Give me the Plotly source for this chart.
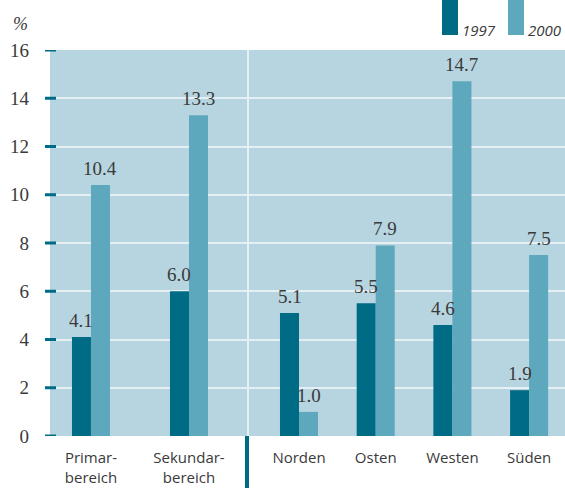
import plotly.graph_objects as go
from plotly.subplots import make_subplots

# ---- data ----
cats_left = ["Primar-<br>bereich", "Sekundar-<br>bereich"]
cats_right = ["Norden", "Osten", "Westen", "Süden"]
v1997_left = [4.1, 6.0]
v2000_left = [10.4, 13.3]
v1997_right = [5.1, 5.5, 4.6, 1.9]
v2000_right = [1.0, 7.9, 14.7, 7.5]
series_names = ["1997", "2000"]
y_ticks = [0, 2, 4, 6, 8, 10, 12, 14, 16]

# ---- style ----
W, H = 565, 488
ML, MR, MT, MB = 50, 0, 50, 52
PW = W - ML - MR
PH = H - MT - MB
DARK = "#006b84"
LIGHT = "#5ea8be"
BG = "#b7d5e0"
GRID = "#e6f0f4"
TXT = "#3a3a3a"
SERIF = "Liberation Serif, serif"
SANS = "Open Sans, sans-serif"
BAR_PX = 19

split_px = 248
split = (split_px - ML) / PW

fig = make_subplots(rows=1, cols=2, shared_yaxes=True, horizontal_spacing=0,
                    column_widths=[split, 1 - split])
fig.update_xaxes(domain=[0, split], row=1, col=1)
fig.update_xaxes(domain=[split, 1], row=1, col=2)

wl = 0.194
wr = 0.248
for col, cats, a, b, w in [(1, cats_left, v1997_left, v2000_left, wl),
                          (2, cats_right, v1997_right, v2000_right, wr)]:
    xref = "x" if col == 1 else "x2"
    for vals, color, off, name, shift in [(a, DARK, -w, series_names[0], -BAR_PX / 2),
                                          (b, LIGHT, 0, series_names[1], BAR_PX / 2)]:
        fig.add_trace(go.Bar(
            x=cats, y=vals, marker=dict(color=color, line=dict(width=0)),
            width=w, offset=off, name=name, showlegend=False, hoverinfo="skip",
        ), row=1, col=col)
        for c, v in zip(cats, vals):
            fig.add_annotation(x=c, y=v, xref=xref, yref="y", text=f"{v:.1f}",
                               showarrow=False, xanchor="center", yanchor="bottom",
                               xshift=shift, yshift=4,
                               font=dict(family=SERIF, size=19, color=TXT))

fig.update_layout(
    width=W, height=H, barmode="overlay",
    margin=dict(l=ML, r=MR, t=MT, b=MB),
    paper_bgcolor="white", plot_bgcolor=BG,
    showlegend=False,
)
fig.update_xaxes(row=1, col=1, range=[-0.418, 1.602])
fig.update_xaxes(row=1, col=2, range=[-0.665, 3.468])
fig.update_xaxes(showgrid=False, zeroline=False, showline=False, ticks="",
                 tickfont=dict(family=SANS, size=15, color=TXT),
                 ticklabelstandoff=11, automargin=False)
fig.update_yaxes(range=[0, 16], tickvals=y_ticks, showgrid=True, gridcolor=GRID,
                 gridwidth=2, zeroline=False, showline=False, ticks="", automargin=False)
fig.update_yaxes(row=1, col=1, tickfont=dict(family=SERIF, size=19, color=TXT),
                 ticklabelstandoff=20)

# y tick marks (cross the left edge)
for t in y_ticks:
    fig.add_shape(type="line", xref="paper", yref="y", x0=-5 / PW, x1=6 / PW,
                  y0=t, y1=t, line=dict(color=DARK, width=3))

# divider: white line within plot, dark line below
fig.add_shape(type="line", xref="paper", yref="paper", x0=split, x1=split, y0=0, y1=1,
              line=dict(color=GRID, width=2))
fig.add_shape(type="line", xref="paper", yref="paper", x0=split - 1 / PW, x1=split - 1 / PW,
              y0=0, y1=-MB / PH, line=dict(color=DARK, width=4))

# unit label
fig.add_annotation(text="<i>%</i>", xref="paper", yref="paper", x=-30 / PW, y=(PH + 26) / PH,
                   showarrow=False, font=dict(family=SERIF, size=18, color=TXT),
                   xanchor="center", yanchor="middle")

# legend
def px_x(p):
    return (p - ML) / PW

def px_y(p):
    return (MT + PH - p) / PH

for (x0, x1, tx, color, name) in [(442, 458, 460, DARK, series_names[0]),
                                  (508, 524, 526, LIGHT, series_names[1])]:
    fig.add_shape(type="rect", xref="paper", yref="paper", x0=px_x(x0), x1=px_x(x1),
                  y0=px_y(35), y1=px_y(-2), fillcolor=color, line=dict(width=0))
    fig.add_annotation(text="<i>" + name + "</i>", xref="paper", yref="paper",
                       x=px_x(tx), y=px_y(42), xanchor="left", yanchor="bottom",
                       showarrow=False, font=dict(family=SANS, size=15, color=TXT))

fig.write_html("out.html", config={"displayModeBar": False},
               post_script="document.body.style.margin='0';document.body.style.overflow='hidden';")
